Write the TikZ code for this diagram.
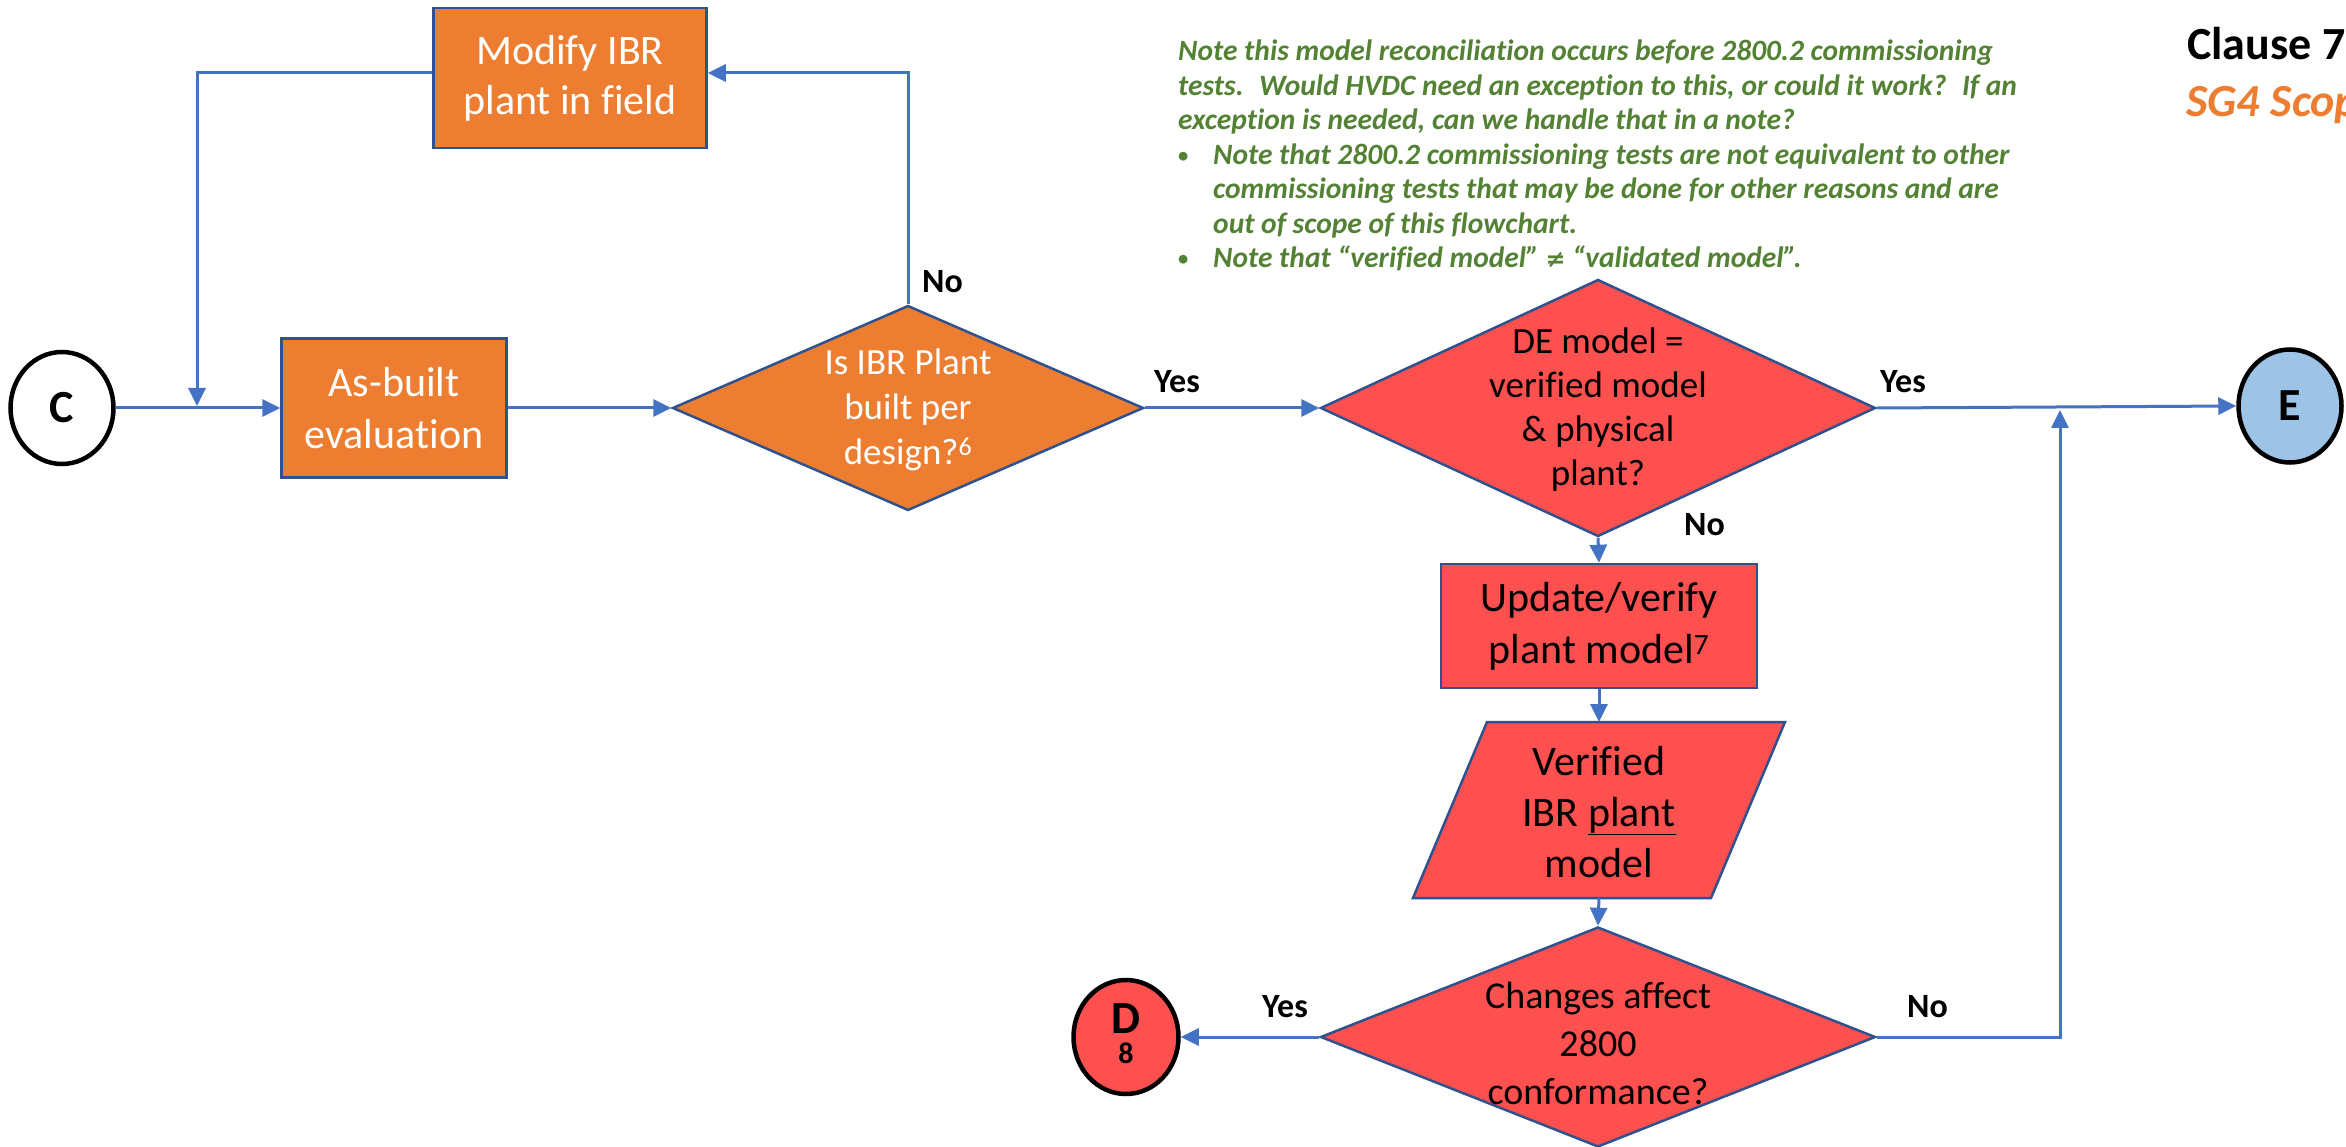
\documentclass[tikz,border=0pt]{standalone}
\usepackage{graphicx}
\usepackage{fontspec}
\setmainfont{Carlito}[Ligatures={TeX,NoCommon}]
\newfontfamily\mathsymfont{DejaVu Sans}
\usetikzlibrary{shapes.geometric,arrows.meta}

\definecolor{ibrorange}{HTML}{ED7D31}
\definecolor{ibrred}{HTML}{FF5050}
\definecolor{linkblue}{HTML}{4472C4}
\definecolor{edgeblue}{HTML}{2F528F}
\definecolor{notegreen}{HTML}{548235}
\definecolor{termblue}{HTML}{9DC3E6}

\newcommand{\notebullet}{\makebox[35pt][l]{\upshape\raisebox{2pt}{\scalebox{0.7}{\textbullet}}}}

\begin{document}
\begin{tikzpicture}[x=1pt,y=-1pt,
  conn/.style={draw=linkblue, line width=3pt, -{Triangle[length=18pt,width=17pt]}},
  box/.style={rectangle, draw=edgeblue, line width=2.5pt, inner sep=0pt, align=center},
  dia/.style={diamond, draw=edgeblue, line width=2.5pt, inner sep=0pt},
  term/.style={ellipse, draw=black, line width=4.5pt, inner sep=0pt},
  termtxt/.style={inner sep=0pt, font=\fontsize{46}{50}\selectfont\bfseries},
  lbl/.style={anchor=base west, inner sep=0pt, font=\fontsize{34}{40}\selectfont\bfseries},
  wtxt/.style={inner sep=0pt, align=center, text=white},
  btxt/.style={inner sep=0pt, align=center, text=black},
]
% canvas
\fill[white] (0,0) rectangle (2346,1147);
\useasboundingbox (0,0) rectangle (2346,1147);

% connectors on/off page
\node[term, minimum width=103pt, minimum height=112pt] (C) at (62,408) {};
\node[termtxt] (Ct) at (C) {C};
\node[term, fill=termblue, minimum width=103pt, minimum height=113pt] (E) at (2290,406) {};
\node[termtxt] (Et) at (E) {E};
\node[term, fill=ibrred, minimum width=105pt, minimum height=114pt] (D) at (1126,1037) {};
\node[termtxt, anchor=base] (Dt) at (1126,1033) {D};
\node[inner sep=0pt, anchor=base, font=\fontsize{30}{30}\selectfont\bfseries] (D8) at (1126,1063) {8};

% process boxes
\node[box, fill=ibrorange, minimum width=225pt, minimum height=139pt] (asb) at (394,408) {};
\node[wtxt, font=\fontsize{42}{52}\selectfont] (asbt) at (asb) {As-built\\evaluation};
\node[box, fill=ibrorange, minimum width=273pt, minimum height=140pt] (mod) at (570,78) {};
\node[wtxt, font=\fontsize{42}{50}\selectfont] (modt) at (mod) {Modify IBR\\plant in field};
\node[box, fill=ibrred, minimum width=316pt, minimum height=124pt] (upd) at (1599,626) {};
\node[btxt, font=\fontsize{42}{52}\selectfont] (updt) at (upd) {Update/verify\\plant model\textsuperscript{7}};

% data (parallelogram)
\coordinate (partop) at (1599,722);
\coordinate (parbot) at (1599,898);
\filldraw[draw=edgeblue, line width=2.5pt, fill=ibrred, line join=miter]
  (1413,898) -- (1487,722) -- (1785,722) -- (1711,898) -- cycle;
\node[btxt, font=\fontsize{42}{51}\selectfont] (par) at (1599,812) {Verified\\IBR \underline{plant}\\model};

% decisions
\node[dia, fill=ibrorange, minimum width=471pt, minimum height=205pt] (d1) at (908,408) {};
\node[wtxt, font=\fontsize{37}{45}\selectfont] (d1t) at (908,410) {Is IBR Plant\\built per\\design?\textsuperscript{6}};
\node[dia, fill=ibrred, minimum width=555pt, minimum height=257pt] (d2) at (1598,408) {};
\node[btxt, font=\fontsize{37}{44}\selectfont] (d2t) at (1598,410) {DE model =\\verified model\\\& physical\\plant?};
\node[dia, fill=ibrred, minimum width=555pt, minimum height=220pt] (d3) at (1598,1037) {};
\node[btxt, font=\fontsize{38}{48}\selectfont] (d3t) at (1598,1043) {Changes affect\\2800\\conformance?};

% flow
\coordinate (fbin) at (197,406);
\coordinate (merge) at (2060,410);
\draw[conn] (C) -- (asb);
\draw[conn] (asb) -- (d1);
\draw[conn] (d1.north) |- ([yshift=5pt]mod.east);
\draw[conn] ([yshift=5pt]mod.west) -| (fbin);
\draw[conn] (d1.east) -- (d2.west);
\draw[conn] (d2.east) -- (E.west);
\draw[conn] (d2.south) -- (upd.north);
\draw[conn] (upd.south) -- (partop);
\draw[conn] (parbot) -- (d3.north);
\draw[conn] (d3.west) -- (D.east);
\draw[conn] (d3.east) -| (merge);

% branch labels
\node[lbl] (no1) at (922,293) {No};
\node[lbl] (yes1) at (1154,393) {Yes};
\node[lbl] (yes2) at (1880,393) {Yes};
\node[lbl] (no2) at (1684,535) {No};
\node[lbl] (yes3) at (1262,1017) {Yes};
\node[lbl] (no3) at (1907,1017) {No};

% reviewer note
\node[anchor=north west, inner sep=0pt, align=left, text=notegreen,
      font=\fontsize{29.5}{34.5}\selectfont\bfseries\itshape] (note) at (1178,40)
{Note this model reconciliation occurs before 2800.2 commissioning\\
tests.~ Would HVDC need an exception to this, or could it work?~ If an\\
exception is needed, can we handle that in a note?\\
\notebullet Note that 2800.2 commissioning tests are not equivalent to other\\
\hspace*{35pt}commissioning tests that may be done for other reasons and are\\
\hspace*{35pt}out of scope of this flowchart.\\
\notebullet Note that “verified model” {\mathsymfont\fontsize{24}{30}\selectfont ≠} “validated model”.};

% heading
\begin{scope}
\clip (0,0) rectangle (2346,1147);
\node[anchor=base west, inner sep=0pt, font=\fontsize{46}{50}\selectfont\bfseries] (cl) at (2187,60) {Clause 7};
\node[anchor=base west, inner sep=0pt, text=ibrorange, font=\fontsize{46}{50}\selectfont\bfseries\itshape] (sg) at (2186,117) {SG4 Scope};
\end{scope}
\end{tikzpicture}
\end{document}
